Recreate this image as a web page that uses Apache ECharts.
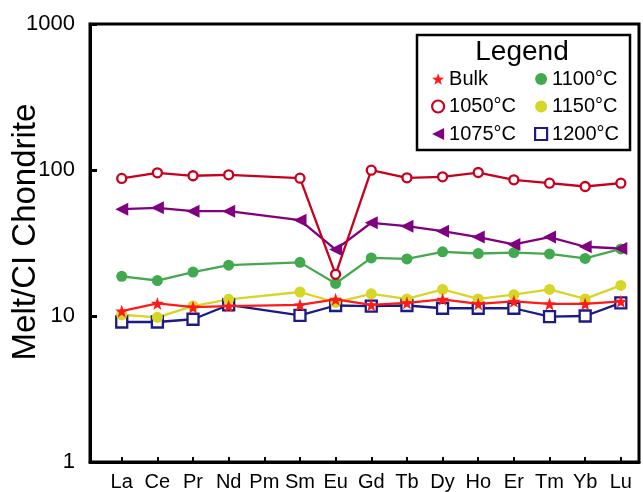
<!DOCTYPE html>
<html>
<head>
<meta charset="utf-8">
<script src="https://cdn.jsdelivr.net/npm/echarts@6/dist/echarts.min.js"></script>
<style>html,body{margin:0;padding:0;background:#fff}#c{width:643px;height:492px}</style>
</head>
<body>
<div id="c"></div>
<script>
const categories = ['La','Ce','Pr','Nd','Pm','Sm','Eu','Gd','Tb','Dy','Ho','Er','Tm','Yb','Lu'];
const yTicks = [1, 10, 100, 1000];
const bulk   = [10.8, 12.2, 11.5, 11.7, null, 11.9, 13.0, 11.9, 12.3, 13.0, 12.1, 12.6, 12.1, 12.1, 12.6];
const t1050  = [87.5, 95.7, 91.3, 92.7, null, 87.9, 19.3, 99.7, 88.4, 89.8, 96.1, 85.7, 81.2, 77.1, 81.2];
const t1075  = [53.9, 55.1, 52.2, 52.2, null, 45.3, 28.5, 43.5, 41.2, 38.1, 34.7, 30.9, 34.7, 29.8, 29.0];
const t1100  = [18.7, 17.5, 20.0, 22.3, null, 23.3, 16.7, 25.0, 24.6, 27.5, 26.8, 27.2, 26.6, 24.8, 28.8];
const t1150  = [10.2, 9.8, 11.7, 13.0, null, 14.6, 12.4, 14.2, 13.1, 15.2, 13.1, 14.0, 15.2, 13.1, 16.2];
const t1200  = [9.1, 9.1, 9.5, 11.9, null, 10.1, 11.8, 11.7, 11.8, 11.3, 11.3, 11.3, 9.9, 10.0, 12.3];
const seriesNames = ['Bulk', '1050°C', '1075°C', '1100°C', '1150°C', '1200°C'];
const colors = ['#ff1a1a', '#c8001e', '#800080', '#43a94f', '#d6d626', '#1c1a87'];

const FONT = 'Liberation Sans, Arial, sans-serif';
const STAR = 'path://M0,-10 L2.35,-3.24 L9.51,-3.09 L3.8,1.24 L5.88,8.09 L0,4 L-5.88,8.09 L-3.8,1.24 L-9.51,-3.09 L-2.35,-3.24 Z';
const LTRI = 'path://M0,5 L10,0 L10,10 Z';

function pts(vals) {
  return vals.map((v, i) => v == null ? null : [i, v]).filter(Boolean);
}
const idx = categories.map((c, i) => i);

function mk(k, vals, symbol, size, hollow, z) {
  const color = colors[k];
  return {
    name: seriesNames[k], type: 'line', data: pts(vals), z: z,
    symbol: symbol, symbolSize: size,
    lineStyle: { color: color, width: 2.3 },
    itemStyle: hollow ? { color: '#fff', borderColor: color, borderWidth: 2.3 } : { color: color, borderWidth: 0 },
    emphasis: { disabled: true },
    animation: false
  };
}
function legItem(k, icon, hollow) {
  return {
    name: seriesNames[k], icon: icon,
    itemStyle: hollow ? { color: '#fff', borderColor: colors[k], borderWidth: 2.2 } : { color: colors[k], borderWidth: 0 }
  };
}
const legText = { fontSize: 20, fontFamily: FONT, color: '#000', lineHeight: 20 };

const chart = echarts.init(document.getElementById('c'), null, { renderer: 'canvas' });
chart.setOption({
  backgroundColor: '#fff',
  animation: false,
  grid: { left: 90, right: 4, top: 24, bottom: 30, show: true, borderColor: '#000', borderWidth: 3,
    containLabel: false, outerBoundsMode: 'none' },
  xAxis: {
    type: 'value', min: -0.89, max: 14.51,
    axisLine: { onZero: false, lineStyle: { color: '#000', width: 3 } },
    axisTick: { inside: true, length: 5, customValues: idx, lineStyle: { color: '#000', width: 2 } },
    axisLabel: { customValues: idx, margin: 10, color: '#000', fontSize: 20, fontFamily: FONT,
      formatter: v => categories[Math.round(v)] },
    splitLine: { show: false }
  },
  yAxis: {
    type: 'log', logBase: 10, min: yTicks[0], max: yTicks[yTicks.length - 1],
    name: 'Melt/CI Chondrite', nameLocation: 'middle', nameGap: 48, nameMoveOverlap: false,
    nameTextStyle: { fontSize: 33, color: '#000', fontFamily: FONT, padding: [0, 0, 0, 22] },
    axisLine: { onZero: false, lineStyle: { color: '#000', width: 3 } },
    axisTick: { inside: true, length: 7, lineStyle: { color: '#000', width: 3 } },
    axisLabel: { margin: 15, color: '#000', fontSize: 22, fontFamily: FONT, showMinLabel: true, showMaxLabel: true,
      formatter: v => String(Math.round(v)) },
    splitLine: { show: false }
  },
  graphic: [
    { type: 'rect', z: 5, shape: { x: 417, y: 35, width: 213, height: 115 },
      style: { fill: '#fff', stroke: '#000', lineWidth: 2.5 } },
    { type: 'text', z: 6, x: 522, y: 52,
      style: { text: 'Legend', fontSize: 28, fontFamily: FONT, fill: '#000', align: 'center', verticalAlign: 'middle' } }
  ],
  legend: [
    { orient: 'vertical', left: 431, top: 69, padding: 0, itemGap: 7.5, itemWidth: 12, itemHeight: 12, z: 10,
      textStyle: legText,
      data: [legItem(0, STAR, false), legItem(1, 'circle', true), legItem(2, LTRI, false)] },
    { orient: 'vertical', left: 534, top: 69, padding: 0, itemGap: 7.5, itemWidth: 12, itemHeight: 12, z: 10,
      textStyle: legText,
      data: [legItem(3, 'circle', false), legItem(4, 'circle', false), legItem(5, 'rect', true)] }
  ],
  series: [
    mk(5, t1200, 'rect', 11, true, 2),
    mk(4, t1150, 'circle', 11, false, 2),
    mk(3, t1100, 'circle', 11, false, 2),
    mk(2, t1075, LTRI, 13, false, 2),
    mk(1, t1050, 'circle', 9, true, 2),
    mk(0, bulk, STAR, 13, false, 3)
  ]
});
</script>
</body>
</html>
